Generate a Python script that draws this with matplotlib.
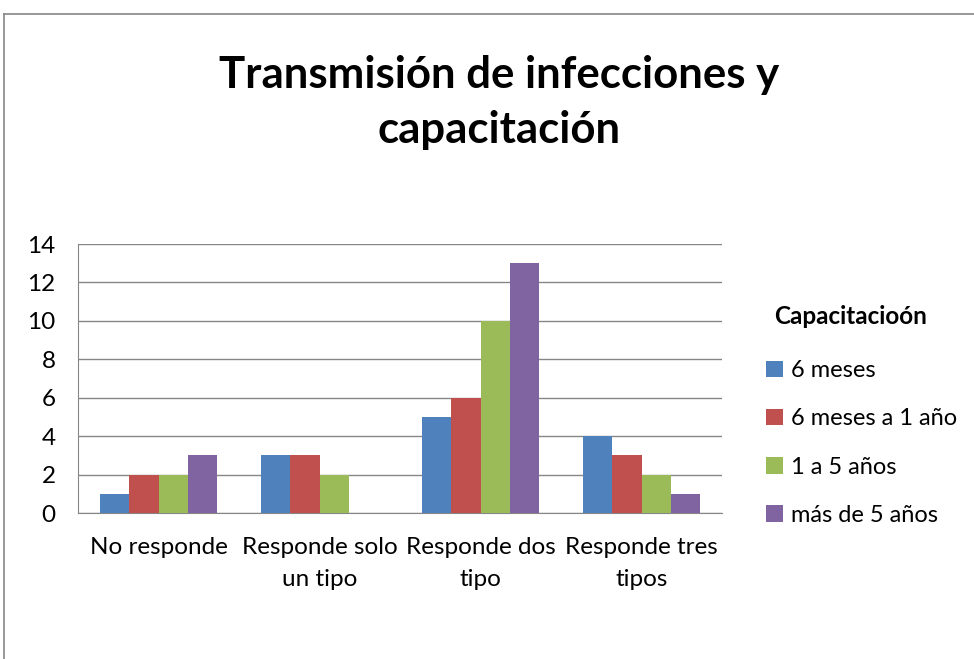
import matplotlib.pyplot as plt
import numpy as np
from matplotlib.lines import Line2D

plt.rcParams['font.family'] = ['Lato', 'DejaVu Sans']

categorias = ['No responde', 'Responde solo\nun tipo', 'Responde dos\ntipo', 'Responde tres\ntipos']
series = ['6 meses', '6 meses a 1 año', '1 a 5 años', 'más de 5 años']
colores = ['#4F81BD', '#C0504D', '#9BBB59', '#8064A2']
seis_meses = [1, 3, 5, 4]
seis_meses_1_anio = [2, 3, 6, 3]
uno_a_cinco = [2, 2, 10, 2]
mas_de_cinco = [3, 0, 13, 1]
valores = [seis_meses, seis_meses_1_anio, uno_a_cinco, mas_de_cinco]

fig = plt.figure(figsize=(9.74, 6.59), dpi=100)
ax = fig.add_axes([0.0801, 0.2215, 0.6612, 0.4082])

x = np.arange(len(categorias))
ancho = 0.183
for i, (serie, vals) in enumerate(zip(series, valores)):
    ax.bar(x + (i - 1.5) * ancho, vals, ancho, color=colores[i], label=serie, zorder=3)

ax.set_xlim(-0.5, len(categorias) - 0.5)
ax.set_ylim(0, 14)
ax.set_yticks(range(0, 15, 2))
ax.yaxis.grid(True, color='#868686', linewidth=1.0, zorder=0)
ax.set_xticks(x)
ax.set_xticklabels(categorias, fontsize=17.5, linespacing=1.65)
ax.tick_params(axis='both', length=0, labelsize=17.5)
ax.tick_params(axis='x', pad=17)
ax.tick_params(axis='y', pad=16)
for lado in ['top', 'right']:
    ax.spines[lado].set_visible(False)
for lado in ['left', 'bottom']:
    ax.spines[lado].set_color('#868686')

fig.text(0.512, 0.844, 'Transmisión de infecciones y\ncapacitación', ha='center', va='center',
         fontsize=31.5, fontweight='bold', linespacing=1.45)

# leyenda con su título aparte
fig.text(0.795, 1 - 316 / 659, 'Capacitacioón', ha='left', va='center',
         fontsize=17.5, fontweight='bold')
leg = fig.legend(loc='upper left', bbox_to_anchor=(0.765, 0.4856), frameon=False,
                 fontsize=17, handlelength=0.7, handleheight=0.7,
                 handletextpad=0.35, labelspacing=1.15)

# borde del área del gráfico
fig.add_artist(Line2D([0.0041, 1.0], [0.9788, 0.9788], color='#868686', linewidth=1.2))
fig.add_artist(Line2D([0.0041, 0.0041], [0.0, 0.9788], color='#868686', linewidth=1.2))

fig.savefig('out.png', dpi=100)
